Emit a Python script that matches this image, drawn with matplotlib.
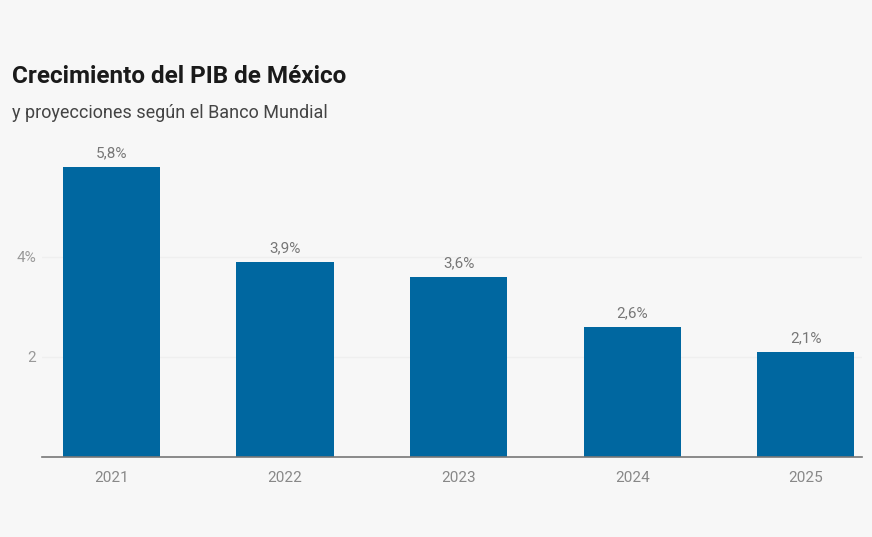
import matplotlib.pyplot as plt

years = ["2021", "2022", "2023", "2024", "2025"]
growth = [5.8, 3.9, 3.6, 2.6, 2.1]
labels = ["5,8%", "3,9%", "3,6%", "2,6%", "2,1%"]
yticks = [2, 4]
ytick_labels = ["2", "4%"]


def main():
    """GDP growth of Mexico, World Bank projections"""
    plt.rcParams['font.family'] = ['Roboto', 'DejaVu Sans']
    bg = "#f7f7f7"
    fig = plt.figure(figsize=(8.72, 5.37), dpi=100, facecolor=bg)
    ax = fig.add_axes([0.048, 0.149, 0.941, 0.559], facecolor=bg)

    x = range(len(years))
    ax.bar(x, growth, width=0.56, color="#0067a0", zorder=2)
    for i, (v, lab) in enumerate(zip(growth, labels)):
        ax.text(i, v + 0.14, lab, ha="center", va="bottom",
                fontsize=11, color="#777777")

    ax.set_xlim(-0.40, 4.326)
    ax.set_ylim(0, 6)
    ax.set_xticks(list(x))
    ax.set_xticklabels(years, fontsize=11, color="#888888")
    ax.set_yticks(yticks)
    ax.set_yticklabels(ytick_labels, fontsize=11, color="#999999")
    ax.tick_params(length=0, pad=10)
    ax.tick_params(axis="y", pad=4)
    ax.grid(axis="y", color="#efefef", linewidth=1, zorder=0)
    for side in ["top", "right", "left"]:
        ax.spines[side].set_visible(False)
    ax.spines["bottom"].set_color("#777777")
    ax.spines["bottom"].set_linewidth(1.2)

    fig.text(0.014, 0.857, "Crecimiento del PIB de México", fontsize=17.5,
             fontweight="bold", color="#1a1a1a", va="center")
    fig.text(0.014, 0.79, "y proyecciones según el Banco Mundial", fontsize=13,
             color="#444444", va="center")

    fig.savefig("out.png", dpi=100, facecolor=bg)


if __name__ == "__main__":
    main()
